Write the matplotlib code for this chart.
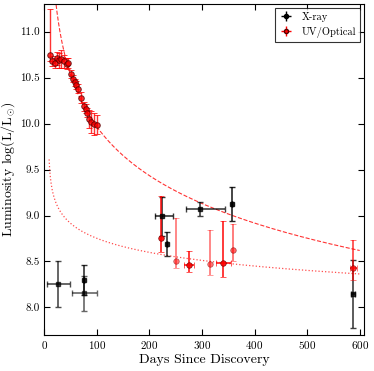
import numpy as np
import matplotlib
matplotlib.use('Agg')
from matplotlib import pyplot as plt

plt.rcParams['font.family'] = 'serif'
plt.rcParams['font.serif'] = ['cmr10']
plt.rcParams['mathtext.fontset'] = 'cm'
plt.rcParams['axes.formatter.use_mathtext'] = True
plt.rcParams['axes.unicode_minus'] = False

# UV/Optical points
uv_t = [10.8, 15.9, 20, 24, 27.8, 32.3, 37.3, 44.3, 46, 51.8, 54.9, 58, 61.2,
        63.7, 69.4, 75.8, 79, 82.2, 85.3, 88.5, 94.2, 99.9]
uv_l = [10.75, 10.68, 10.66, 10.71, 10.69, 10.70, 10.68, 10.65, 10.66, 10.54,
        10.49, 10.45, 10.42, 10.38, 10.28, 10.19, 10.16, 10.12, 10.05, 10.02,
        10.00, 9.99]
uv_up = [0.5, 0.05, 0.05, 0.07, 0.08, 0.1, 0.07, 0.06, 0.05, 0.04, 0.04, 0.04,
         0.04, 0.05, 0.06, 0.05, 0.05, 0.05, 0.1, 0.12, 0.12, 0.1]
uv_dn = [0.07, 0.05, 0.05, 0.07, 0.08, 0.1, 0.07, 0.06, 0.05, 0.04, 0.04, 0.04,
         0.04, 0.05, 0.06, 0.05, 0.05, 0.05, 0.1, 0.12, 0.12, 0.1]

uv_late_t = [223, 251, 275, 316, 341, 359, 588]
uv_late_l = [8.755, 8.51, 8.46, 8.47, 8.485, 8.62, 8.43]
uv_late_up = [0.455, 0.46, 0.15, 0.37, 0.455, 0.29, 0.30]
uv_late_dn = [0.155, 0.08, 0.07, 0.12, 0.155, 0.12, 0.13]
uv_late_xerr = [0, 0, 10, 0, 15, 0, 7]
uv_late_alpha = [0.9, 0.55, 0.9, 0.55, 0.9, 0.6, 0.75]

# X-ray points
xr_t = [27.2, 76.5, 76.5, 224.8, 233.7, 296, 358, 588]
xr_l = [8.26, 8.30, 8.155, 8.99, 8.69, 9.07, 9.13, 8.15]
xr_up = [0.25, 0.165, 0.19, 0.21, 0.135, 0.08, 0.185, 0.37]
xr_dn = [0.25, 0.165, 0.19, 0.21, 0.135, 0.08, 0.185, 0.37]
xr_xlo = [22, 0, 24, 14, 0, 26, 0, 4]
xr_xhi = [22, 0, 24, 20, 0, 47, 0, 4]
xr_alpha = [0.7, 0.8, 0.6, 0.8, 0.8, 0.75, 0.85, 0.75]

# model curves: log L = a - n log10(t - t0)
t0 = 8.0
dash_a, dash_n = 13.24, 5.0 / 3.0
dot_a, dot_n = 9.695, 0.48

fig = plt.figure(figsize=(3.74, 3.71), dpi=100)
ax = fig.add_axes([0.118, 0.097, 0.855, 0.892])

tt = np.linspace(t0 + 1.5, 600, 600)
ax.plot(tt, dash_a - dash_n * np.log10(tt - t0), color='red', ls='--', lw=0.8, alpha=0.8)
ax.plot(tt, dot_a - dot_n * np.log10(tt - t0), color='red', ls=':', lw=0.9, alpha=0.7)

for i in range(len(xr_t)):
    ax.errorbar(xr_t[i], xr_l[i], yerr=[[xr_dn[i]], [xr_up[i]]],
                xerr=[[xr_xlo[i]], [xr_xhi[i]]], fmt='s', color='black',
                ms=3.5, mec='black', capsize=2, elinewidth=1.2,
                alpha=xr_alpha[i])

ax.errorbar(uv_t, uv_l, yerr=[uv_dn, uv_up], fmt='o', color='red', ecolor='red',
            ms=4, mec='#550000', mew=0.7, capsize=2, elinewidth=1.0, alpha=0.8)
for i in range(len(uv_late_t)):
    ax.errorbar(uv_late_t[i], uv_late_l[i],
                yerr=[[uv_late_dn[i]], [uv_late_up[i]]],
                xerr=uv_late_xerr[i] if uv_late_xerr[i] else None,
                fmt='o', color='red', ms=4, mec='#770000', mew=0.5,
                capsize=2, elinewidth=1.2, alpha=uv_late_alpha[i])

hx = ax.errorbar([], [], yerr=[], xerr=[], fmt='o', color='black', ms=3,
                 capsize=2, elinewidth=1.0)
hu = ax.errorbar([], [], yerr=[], xerr=[], fmt='o', color='red', ms=3,
                 mec='#550000', capsize=2, elinewidth=1.0)
leg = ax.legend([hx, hu], ['X-ray', 'UV/Optical'], loc='upper right',
                numpoints=1, fontsize=7.5, fancybox=False, borderaxespad=0.35,
                handlelength=1.4, borderpad=0.4, labelspacing=0.45)
leg.get_frame().set_edgecolor('black')
leg.get_frame().set_linewidth(0.8)

ax.set_xlim(0, 608)
ax.set_ylim(7.7, 11.3)
ax.set_xticks([0, 100, 200, 300, 400, 500, 600])
ax.set_yticks([8.0, 8.5, 9.0, 9.5, 10.0, 10.5, 11.0])
ax.set_yticklabels(['8.0', '8.5', '9.0', '9.5', '10.0', '10.5', '11.0'])
ax.tick_params(direction='in', top=True, right=True, labelsize=8, length=4, pad=3)
ax.set_xlabel('Days Since Discovery', fontsize=10, labelpad=2)
ax.set_ylabel(r'Luminosity log(L/L$_{\odot}$)', fontsize=10, labelpad=2)

fig.savefig('out.png', dpi=100)
